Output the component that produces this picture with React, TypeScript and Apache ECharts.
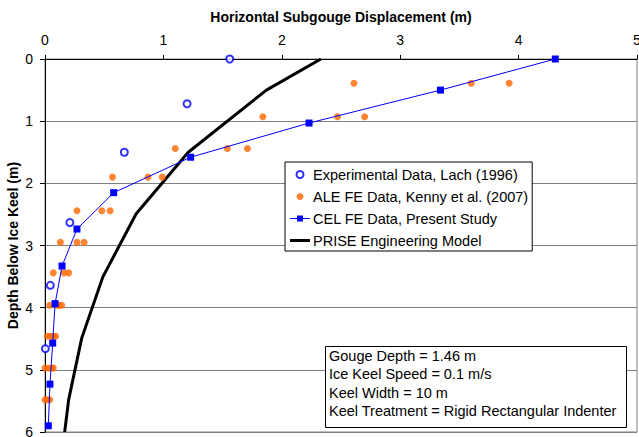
import React, { useEffect, useRef } from "react";
import * as echarts from "echarts";

// Experimental Data, Lach (1996): [displacement, depth]
const expX = [1.56, 1.2, 0.67, 0.21, 0.045, 0.003];
const expY = [0.0, 0.72, 1.5, 2.63, 3.64, 4.66];

// ALE FE Data, Kenny et al. (2007)
const aleX = [
  2.61, 3.6, 3.92,
  1.84, 2.47, 2.7,
  1.1, 1.54, 1.71,
  0.57, 0.87, 0.99,
  0.27, 0.48, 0.55,
  0.13, 0.27, 0.33,
  0.07, 0.16, 0.2,
  0.04, 0.1, 0.12, 0.14,
  0.02, 0.045, 0.07, 0.09,
  0.0, 0.03, 0.06, 0.07,
  0.0, 0.02, 0.04,
];
const aleY = [
  0.39, 0.39, 0.39,
  0.93, 0.93, 0.93,
  1.44, 1.44, 1.44,
  1.9, 1.9, 1.9,
  2.44, 2.44, 2.44,
  2.95, 2.95, 2.95,
  3.44, 3.44, 3.44,
  3.96, 3.96, 3.96, 3.96,
  4.46, 4.46, 4.46, 4.46,
  4.97, 4.97, 4.97, 4.97,
  5.48, 5.48, 5.48,
];

// CEL FE Data, Present Study
const celX = [4.31, 3.34, 2.23, 1.23, 0.58, 0.27, 0.144, 0.085, 0.065, 0.042, 0.028];
const celY = [0.0, 0.5, 1.03, 1.58, 2.15, 2.735, 3.33, 3.935, 4.57, 5.23, 5.9];

// PRISE Engineering Model
const priseX = [2.33, 1.87, 1.21, 0.77, 0.49, 0.31, 0.2, 0.166];
const priseY = [0.0, 0.5, 1.5, 2.49, 3.5, 4.49, 5.48, 6.0];

const xTicks = [0, 1, 2, 3, 4, 5];
const yTicks = [0, 1, 2, 3, 4, 5, 6];

const seriesNames = [
  "Experimental Data, Lach (1996)",
  "ALE FE Data, Kenny et al. (2007)",
  "CEL FE Data, Present Study",
  "PRISE Engineering Model",
];

const infoLines = [
  "Gouge Depth = 1.46 m",
  "Ice Keel Speed = 0.1 m/s",
  "Keel Width = 10 m",
  "Keel Treatment = Rigid Rectangular Indenter",
];

const zip = (xs: number[], ys: number[]) => xs.map((x, i) => [x, ys[i]]);

const FONT = "'Liberation Sans', Arial, sans-serif";

export default function App() {
  const ref = useRef<HTMLDivElement>(null);
  useEffect(() => {
    if (!ref.current) return;
    const chart = echarts.init(ref.current, undefined, { renderer: "svg" });
    chart.setOption({
      animation: false,
      backgroundColor: "#ffffff",
      textStyle: { fontFamily: FONT },
      grid: {
        left: 45,
        right: 2,
        top: 59,
        bottom: 5,
        outerBoundsMode: "none",
        containLabel: false,
        show: true,
        borderColor: "#808080",
        borderWidth: 1,
        backgroundColor: "transparent",
      },
      xAxis: {
        type: "value",
        position: "top",
        min: xTicks[0],
        max: xTicks[xTicks.length - 1],
        interval: 1,
        name: "Horizontal Subgouge Displacement (m)",
        nameLocation: "middle",
        nameGap: 35,
        nameMoveOverlap: false,
        nameTextStyle: { fontFamily: FONT, fontSize: 14, fontWeight: "bold", color: "#000" },
        axisLine: { show: true, onZero: false, lineStyle: { color: "#000", width: 1 } },
        axisTick: { show: true, inside: false, length: 4, lineStyle: { color: "#000" } },
        axisLabel: { fontFamily: FONT, fontSize: 14, color: "#000", margin: 12 },
        splitLine: { show: false },
      },
      yAxis: {
        type: "value",
        inverse: true,
        min: yTicks[0],
        max: yTicks[yTicks.length - 1],
        interval: 1,
        name: "Depth Below Ice Keel (m)",
        nameLocation: "middle",
        nameRotate: 90,
        nameGap: 25,
        nameMoveOverlap: false,
        nameTextStyle: { fontFamily: FONT, fontSize: 14, fontWeight: "bold", color: "#000" },
        axisLine: { show: true, onZero: false, lineStyle: { color: "#000", width: 1 } },
        axisTick: { show: true, length: 5, lineStyle: { color: "#000" } },
        axisLabel: { fontFamily: FONT, fontSize: 14, color: "#000", margin: 12 },
        splitLine: { show: true, lineStyle: { color: "#808080", width: 1 } },
      },
      legend: {
        orient: "vertical",
        left: 285,
        top: 162,
        data: [
          { name: seriesNames[0] },
          { name: seriesNames[1] },
          {
            name: seriesNames[2],
            icon: "path://M0,6.5L7,6.5L7,4L13,4L13,6.5L20,6.5L20,7.5L13,7.5L13,10L7,10L7,7.5L0,7.5Z",
          },
          { name: seriesNames[3], icon: "path://M0,0L20,0L20,3L0,3Z" },
        ],
        backgroundColor: "#ffffff",
        borderColor: "#000000",
        borderWidth: 1,
        borderRadius: 0,
        padding: [5, 4, 3, 5],
        itemWidth: 20,
        itemHeight: 7,
        itemGap: 7,
        textStyle: { fontFamily: FONT, fontSize: 14.5, color: "#000", padding: [0, 0, 0, -2] },
        z: 10,
      },
      graphic: [
        {
          type: "rect",
          left: 325,
          top: 346,
          z: 100,
          zlevel: 0,
          shape: { x: 0, y: 0, width: 301, height: 81 },
          style: { fill: "#ffffff", stroke: "#000000", lineWidth: 1 },
        },
        {
          type: "text",
          left: 329,
          top: 347,
          z: 101,
          zlevel: 0,
          style: {
            text: infoLines.join("\n"),
            fontFamily: FONT,
            fontSize: 14.5,
            lineHeight: 18.3,
            fill: "#000",
          },
        },
      ],
      series: [
        {
          name: seriesNames[0],
          type: "scatter",
          data: zip(expX, expY),
          symbol: "emptyCircle",
          symbolSize: 7,
          itemStyle: { color: "#0000ff", borderColor: "#0000ff", borderWidth: 1 },
          z: 3,
        },
        {
          name: seriesNames[1],
          type: "scatter",
          data: zip(aleX, aleY),
          symbol: "circle",
          symbolSize: 7,
          itemStyle: { color: "#ff6600" },
          z: 3,
        },
        {
          name: seriesNames[2],
          type: "line",
          data: zip(celX, celY),
          symbol: "rect",
          symbolSize: 7,
          showSymbol: true,
          lineStyle: { color: "#0000ff", width: 1 },
          itemStyle: { color: "#0000ff" },
          z: 4,
        },
        {
          name: seriesNames[3],
          type: "line",
          data: zip(priseX, priseY),
          symbol: "none",
          lineStyle: { color: "#000000", width: 3 },
          itemStyle: { color: "#000000" },
          z: 2,
        },
      ],
    });
    return () => chart.dispose();
  }, []);
  return (
    <div
      ref={ref}
      style={{ position: "fixed", left: 0, top: 0, width: 639, height: 437 }}
    />
  );
}
